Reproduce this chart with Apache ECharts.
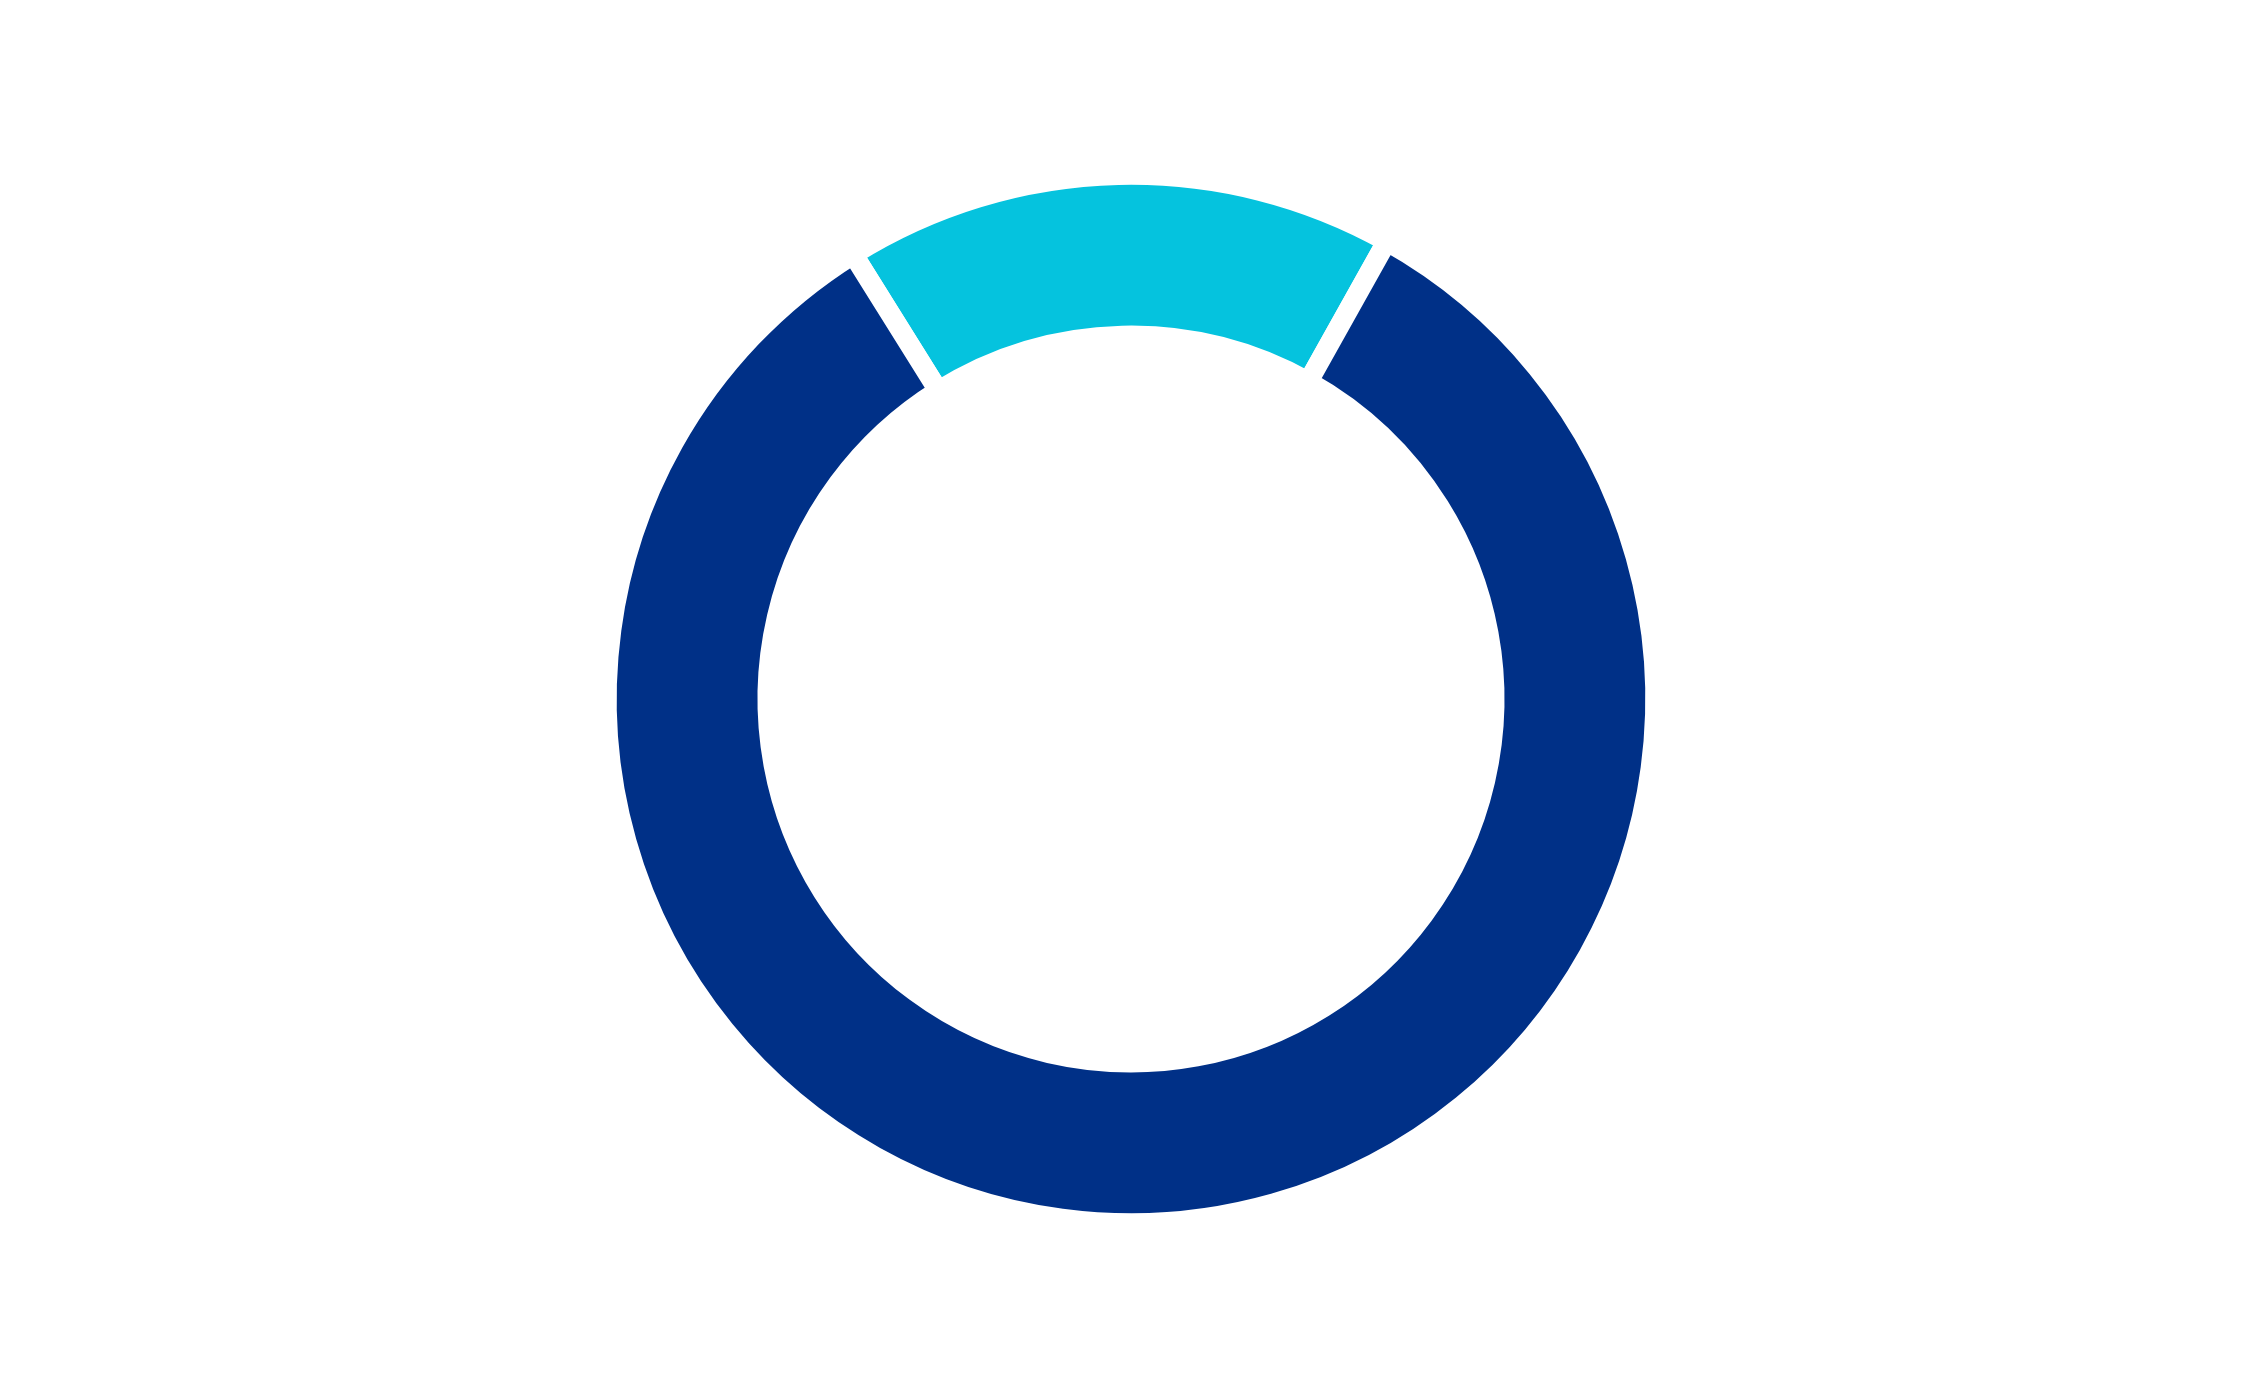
<!DOCTYPE html>
<html>
<head>
<meta charset="utf-8">
<script src="https://cdn.jsdelivr.net/npm/echarts@6/dist/echarts.min.js"></script>
<style>
html,body{margin:0;padding:0;background:#ffffff;}
#chart{width:2262px;height:1398px;}
</style>
</head>
<body>
<div id="chart"></div>
<script>
const categories = ['Segment A', 'Segment B'];
const values = [17, 83];
const colors = ['#05C3DE', '#003087'];

const chart = echarts.init(document.getElementById('chart'), null, {renderer: 'canvas'});
chart.setOption({
  backgroundColor: '#ffffff',
  animation: false,
  tooltip: {show: false},
  legend: {show: false},
  series: [{
    type: 'pie',
    center: ['50%', '50%'],
    radius: ['52%', '75%'],
    startAngle: 122,
    clockwise: true,
    label: {show: false},
    labelLine: {show: false},
    silent: true,
    itemStyle: {
      borderColor: '#ffffff',
      borderWidth: 20
    },
    data: categories.map((c, i) => ({name: c, value: values[i], itemStyle: {color: colors[i]}}))
  }]
});
</script>
</body>
</html>
